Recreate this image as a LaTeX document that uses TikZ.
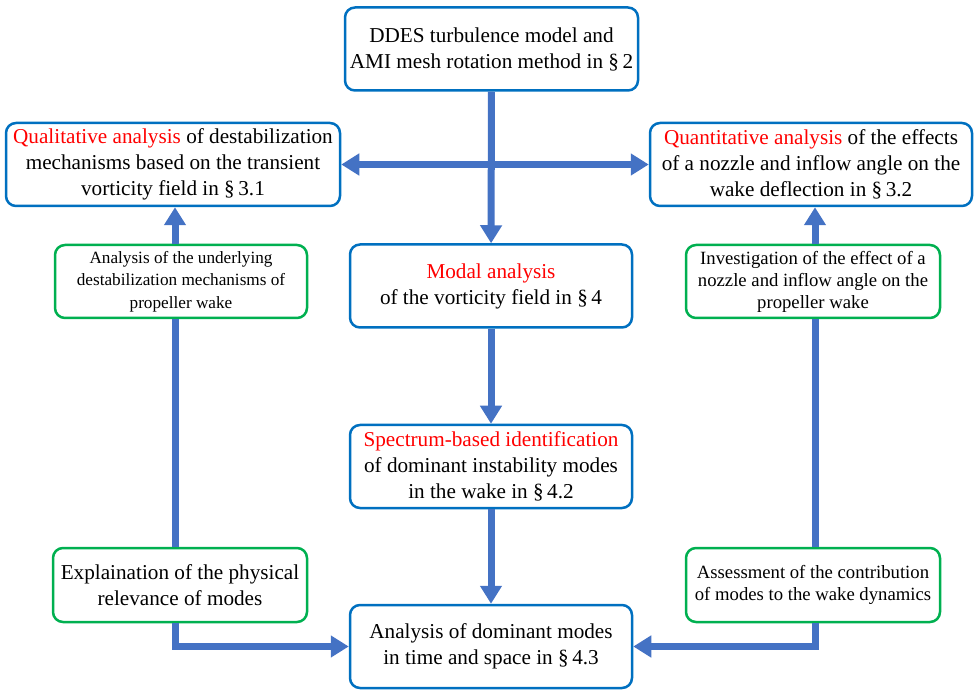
\documentclass[tikz,border=0pt]{standalone}
\usepackage{fontspec}
\setmainfont{Liberation Serif}
\usetikzlibrary{positioning,arrows.meta}
\definecolor{secblue}{RGB}{0,112,192}
\definecolor{notegreen}{RGB}{0,176,80}
\definecolor{flowblue}{RGB}{68,114,196}
\tikzset{%
    secbox/.style={draw=secblue,line width=2.5pt,rounded corners=10pt,fill=white,align=center,
        minimum height=83pt,inner sep=2pt,font=\fontsize{21.2}{26}\selectfont},
    notebox/.style={draw=notegreen,line width=2.5pt,rounded corners=10pt,fill=white,align=center,
        minimum width=254pt,minimum height=73pt,inner sep=2pt,font=\fontsize{18.7}{22}\selectfont},
    flow/.style={flowblue,line width=7pt,-{Triangle[width=21pt,length=18pt]}},
    link/.style={flowblue,line width=7pt},
}

\begin{document}
\begin{tikzpicture}[x=1pt,y=-1pt]
    \useasboundingbox (0,0) rectangle (975,692);

    % section boxes
    \node[secbox,minimum width=293pt] (ddes) at (491.5,49) {DDES turbulence model and\\AMI mesh rotation method in \S\,2};
    \node[secbox,minimum width=334pt] (qual) at (173,164.5) {\textcolor{red}{Qualitative analysis} of destabilization\\mechanisms based on the transient\\vorticity field in \S\,3.1};
    \node[secbox,minimum width=322pt] (quan) at (811,164.5) {\textcolor{red}{Quantitative analysis} of the effects\\of a nozzle and inflow angle on the\\wake deflection in \S\,3.2};
    \node[secbox,minimum width=282pt] (modal) at (491,286) {\textcolor{red}{Modal analysis}\\of the vorticity field in \S\,4};
    \node[secbox,minimum width=282pt] (spec) at (491,466.5) {\textcolor{red}{Spectrum-based identification}\\of dominant instability modes\\in the wake in \S\,4.2};
    \node[secbox,minimum width=282pt] (dom) at (491,646.5) {Analysis of dominant modes\\in time and space in \S\,4.3};

    % note boxes
    \node[notebox,minimum width=252pt,font=\fontsize{17.2}{22.5}\selectfont] (under) at (181,281.5) {Analysis of the underlying\\destabilization mechanisms of\\propeller wake};
    \node[notebox] (inve) at (813,281.5) {Investigation of the effect of a\\nozzle and inflow angle on the\\propeller wake};
    \node[notebox,minimum height=74pt,font=\fontsize{21.2}{26}\selectfont] (expl) at (180,585) {Explaination of the physical\\relevance of modes};
    \node[notebox,minimum height=74pt] (asse) at (813,585) {Assessment of the contribution\\of modes to the wake dynamics};

    \coordinate (lcol) at (175,0);
    \coordinate (rcol) at (815,0);

    % arrows
    \draw[flow] (ddes) -- (modal);
    \draw[flow] (ddes.south |- qual.east) -- (qual.east);
    \draw[flow] (ddes.south |- quan.west) -- (quan.west);
    \draw[flow] (modal) -- (spec);
    \draw[flow] (spec) -- (dom);

    \draw[link] (expl.north -| lcol) -- (under.south -| lcol);
    \draw[flow] (under.north -| lcol) -- (qual.south -| lcol);
    \draw[flow] (expl.south -| lcol) |- (dom.west);

    \draw[link] (asse.north -| rcol) -- (inve.south -| rcol);
    \draw[flow] (inve.north -| rcol) -- (quan.south -| rcol);
    \draw[flow] (asse.south -| rcol) |- (dom.east);
\end{tikzpicture}
\end{document}
